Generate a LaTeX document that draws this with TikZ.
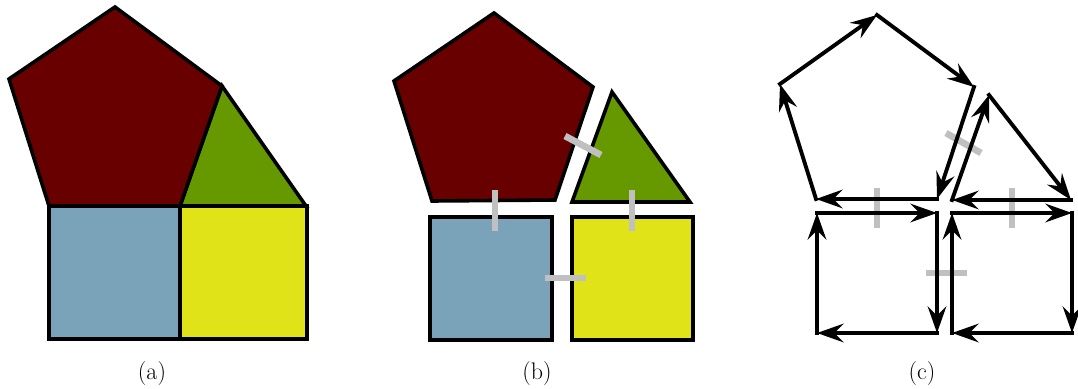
\documentclass[tikz,border=0pt]{standalone}
\usepackage{fontspec}
\usepackage{tikz}
\usetikzlibrary{arrows.meta}
\definecolor{pentred}{HTML}{680000}
\definecolor{trigreen}{HTML}{669900}
\definecolor{sqblue}{HTML}{7AA2B8}
\definecolor{sqyellow}{HTML}{DFE318}
\definecolor{gluegray}{HTML}{C0C0C0}

\begin{document}
\begin{tikzpicture}[x=0.75pt,y=-0.75pt,
  face/.style={draw=black, line width=2.7pt, line join=miter},
  glue/.style={draw=gluegray, line width=5pt},
  edge/.style={draw=black, line width=2.9pt, line cap=rect, -{Stealth[length=20pt,width=14pt,inset=7pt]}},
  lab/.style={font=\fontsize{18}{21}\selectfont, anchor=base}]
  \useasboundingbox (0,0) rectangle (1078,389);
  % (a) glued faces
  \coordinate (aP1) at (115,7);
  \coordinate (aP2) at (222,86);
  \coordinate (aP3) at (180,206);
  \coordinate (aP4) at (49,206);
  \coordinate (aP5) at (9,79);
  \coordinate (aT3) at (306,206);
  \coordinate (aS1) at (49,339);
  \coordinate (aS2) at (180,339);
  \coordinate (aS3) at (307,339);
  \coordinate (aS4) at (307,206);
  \filldraw[face, fill=sqblue] (aP4) -- (aP3) -- (aS2) -- (aS1) -- cycle;
  \filldraw[face, fill=sqyellow] (aP3) -- (aS4) -- (aS3) -- (aS2) -- cycle;
  \filldraw[face, fill=trigreen] (aP2) -- (aT3) -- (aP3) -- cycle;
  \filldraw[face, fill=pentred] (aP1) -- (aP2) -- (aP3) -- (aP4) -- (aP5) -- cycle;
  \node[lab] (la) at (152,379) {(a)};
  % (b) faces pulled apart, glue marks
  \coordinate (bP1) at (494,13);
  \coordinate (bP2) at (593,87);
  \coordinate (bP3) at (555,200);
  \coordinate (bP4) at (432,201);
  \coordinate (bP5) at (394,81);
  \coordinate (bT1) at (612,92);
  \coordinate (bT2) at (690,202);
  \coordinate (bT3) at (572,202);
  \coordinate (bB1) at (430,217);
  \coordinate (bB2) at (552,217);
  \coordinate (bB3) at (552,340);
  \coordinate (bB4) at (430,340);
  \coordinate (bY1) at (572,217);
  \coordinate (bY2) at (693,217);
  \coordinate (bY3) at (693,340);
  \coordinate (bY4) at (572,340);
  \filldraw[face, fill=pentred] (bP1) -- (bP2) -- (bP3) -- (bP4) -- (bP5) -- cycle;
  \filldraw[face, fill=trigreen] (bT1) -- (bT2) -- (bT3) -- cycle;
  \filldraw[face, fill=sqblue] (bB1) -- (bB2) -- (bB3) -- (bB4) -- cycle;
  \filldraw[face, fill=sqyellow] (bY1) -- (bY2) -- (bY3) -- (bY4) -- cycle;
  \draw[glue] (495,190) -- (495,231);
  \draw[glue] (632,190) -- (632,231);
  \draw[glue] (545,278) -- (586,278);
  \draw[glue] (565,136) -- (601,155);
  \node[lab] (lb) at (537,379) {(b)};
  % (c) oriented edges
  \coordinate (cP1) at (877,15);
  \coordinate (cP2) at (974,87);
  \coordinate (cP3) at (937,199);
  \coordinate (cP4) at (816,199);
  \coordinate (cP5) at (780,84);
  \coordinate (cT1) at (989,95);
  \coordinate (cT2) at (1071,200);
  \coordinate (cT3) at (952,200);
  \coordinate (cB1) at (817,213);
  \coordinate (cB2) at (937,213);
  \coordinate (cB3) at (937,333);
  \coordinate (cB4) at (817,333);
  \coordinate (cY1) at (952,213);
  \coordinate (cY2) at (1072,213);
  \coordinate (cY3) at (1072,333);
  \coordinate (cY4) at (952,333);
  \draw[glue] (877,188) -- (877,228);
  \draw[glue] (1012,188) -- (1012,228);
  \draw[glue] (926,273) -- (967,273);
  \draw[glue] (946,133) -- (981,153);
  \draw[edge] (cP5) -- (cP1);
  \draw[edge] (cP1) -- (cP2);
  \draw[edge] (cP2) -- (cP3);
  \draw[edge] (cP3) -- (cP4);
  \draw[edge] (cP4) -- (cP5);
  \draw[edge] (cT1) -- (cT2);
  \draw[edge] (cT2) -- (cT3);
  \draw[edge] (cT3) -- (cT1);
  \draw[edge] (cB1) -- (cB2);
  \draw[edge] (cB2) -- (cB3);
  \draw[edge] (cB3) -- (cB4);
  \draw[edge] (cB4) -- (cB1);
  \draw[edge] (cY1) -- (cY2);
  \draw[edge] (cY2) -- (cY3);
  \draw[edge] (cY3) -- (cY4);
  \draw[edge] (cY4) -- (cY1);
  \node[lab] (lc) at (922,379) {(c)};
\end{tikzpicture}
\end{document}
